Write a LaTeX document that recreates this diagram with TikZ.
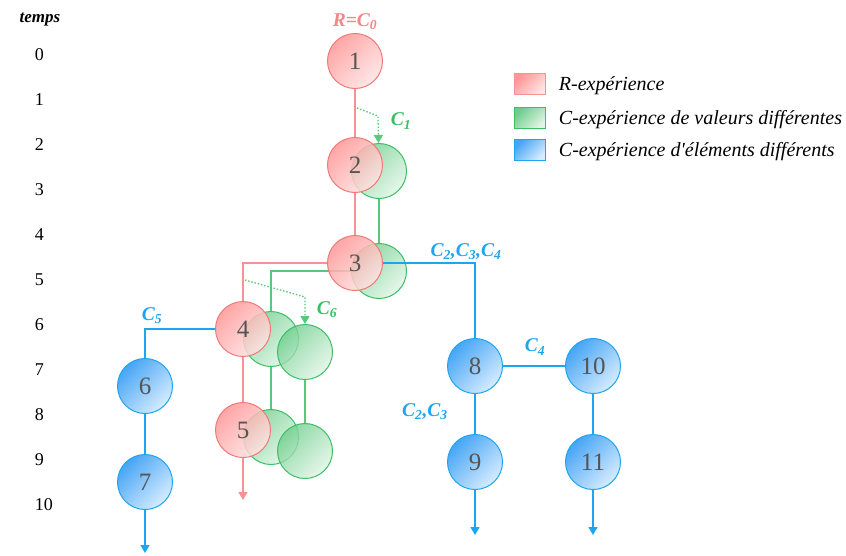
\documentclass[tikz,border=0pt]{standalone}
\usepackage{fontspec}
\setmainfont{Liberation Serif}
\usetikzlibrary{arrows.meta}
\definecolor{rougeb}{RGB}{242,120,120}
\definecolor{rougef}{RGB}{255,150,150}
\definecolor{rougec}{RGB}{255,228,228}
\definecolor{vertb}{RGB}{60,190,100}
\definecolor{vertf}{RGB}{110,205,140}
\definecolor{vertc}{RGB}{225,245,230}
\definecolor{bleub}{RGB}{30,165,240}
\definecolor{bleuf}{RGB}{70,165,245}
\definecolor{bleuc}{RGB}{215,236,255}
\definecolor{chiffre}{RGB}{85,85,85}
\newcommand\ind[1]{\textsubscript{#1}}

\begin{document}
\begin{tikzpicture}[x=1pt, y=-1pt, >={Triangle[width=9pt,length=8pt]}, line width=1.3pt,
    exp/.style={circle, minimum size=55pt, inner sep=0pt, text=chiffre, line width=1pt,
      font=\fontsize{25}{25}\selectfont},
    rexp/.style={exp, draw=rougeb, top color=rougef, bottom color=rougec,
      shading angle=45, fill opacity=0.85, text opacity=1},
    vexp/.style={exp, draw=vertb, top color=vertf, bottom color=vertc,
      shading angle=45, fill opacity=0.8},
    bexp/.style={exp, draw=bleub, top color=bleuf, bottom color=bleuc,
      shading angle=45},
    case/.style={rectangle, minimum width=31pt, minimum height=21pt, inner sep=0pt, line width=1pt},
    rtrait/.style={color=rougeb!80},
    vtrait/.style={color=vertb!85},
    btrait/.style={color=bleub},
    pointille/.style={vtrait, dash pattern=on 1.5pt off 1.8pt},
    lab/.style={font=\fontsize{19.5}{19.5}\selectfont\bfseries\itshape},
    leg/.style={anchor=west, font=\fontsize{20}{20}\selectfont\itshape}]
  \useasboundingbox (0,0) rectangle (846,555);

  \node[font=\fontsize{17}{17}\selectfont\bfseries\itshape] (temps) at (40,20) {temps};
  \foreach \t in {0,...,10}
    \node[anchor=west, font=\fontsize{18}{18}\selectfont] (t\t) at (31,55+45*\t) {\t};

  \node[vexp] (g2) at (379,171) {};
  \node[vexp] (g3) at (379,271) {};
  \node[vexp] (g4a) at (271,339) {};
  \node[vexp] (g4b) at (305,352) {};
  \node[vexp] (g5a) at (271,437) {};
  \node[vexp] (g5b) at (305,451) {};
  \draw[vtrait] (g2) -- (g3);
  \draw[vtrait] (g3) -| (g4a);
  \draw[vtrait] (g4a) -- (g5a);
  \draw[vtrait] (g4b) -- (g5b);

  \coordinate (c1s) at (357,108);
  \coordinate (c1b) at (378,116);
  \coordinate (c6s) at (245,280);
  \coordinate (c6b) at (305,297);
  \draw[pointille, ->] (c1s) -- (c1b) -- (g2);
  \draw[pointille, ->] (c6s) -- (c6b) -- (g4b);

  \node[rexp] (n1) at (355,61) {1};
  \node[rexp] (n2) at (355,165) {2};
  \node[rexp] (n3) at (355,263) {3};
  \node[rexp] (n4) at (243,329) {4};
  \node[rexp] (n5) at (243,430) {5};
  \coordinate (r5) at (243,500);
  \draw[rtrait] (n1) -- (n2);
  \draw[rtrait] (n2) -- (n3);
  \draw[rtrait] (n3) -| (n4);
  \draw[rtrait] (n4) -- (n5);
  \draw[rtrait, ->] (n5) -- (r5);

  \node[bexp] (n6) at (145,386) {6};
  \node[bexp] (n7) at (145,482) {7};
  \node[bexp] (n8) at (475,366) {8};
  \node[bexp] (n9) at (475,462) {9};
  \node[bexp] (n10) at (593,366) {10};
  \node[bexp] (n11) at (593,462) {11};
  \coordinate (b7) at (145,553);
  \coordinate (b9) at (475,535);
  \coordinate (b11) at (593,535);
  \draw[btrait] (n3) -| (n8);
  \draw[btrait] (n4) -| (n6);
  \draw[btrait] (n6) -- (n7);
  \draw[btrait] (n8) -- (n9);
  \draw[btrait] (n8) -- (n10);
  \draw[btrait] (n10) -- (n11);
  \draw[btrait, ->] (n7) -- (b7);
  \draw[btrait, ->] (n9) -- (b9);
  \draw[btrait, ->] (n11) -- (b11);

  \node[lab, text=rougeb!90] (lr) at (355,22) {R=C\ind{0}};
  \node[lab, text=vertb] (l1) at (401,121) {C\ind{1}};
  \node[lab, text=bleub] (l234) at (466,252) {C\ind{2},C\ind{3},C\ind{4}};
  \node[lab, text=bleub] (l5) at (152,316) {C\ind{5}};
  \node[lab, text=vertb] (l6) at (327,310) {C\ind{6}};
  \node[lab, text=bleub] (l4) at (535,347) {C\ind{4}};
  \node[lab, text=bleub] (l23) at (425,412) {C\ind{2},C\ind{3}};

  \node[case, draw=rougeb!80, top color=rougef, bottom color=rougec, shading angle=45] (cr) at (530,84) {};
  \node[case, draw=vertb, top color=vertf, bottom color=vertc, shading angle=45] (cv) at (530,118) {};
  \node[case, draw=bleub, top color=bleuf, bottom color=bleuc, shading angle=45] (cb) at (530,150) {};
  \node[leg] (tr) at (555,86) {R-expérience};
  \node[leg] (tv) at (555,120) {C-expérience de valeurs différentes};
  \node[leg] (tb) at (555,152) {C-expérience d\textquotesingle éléments différents};
\end{tikzpicture}
\end{document}
